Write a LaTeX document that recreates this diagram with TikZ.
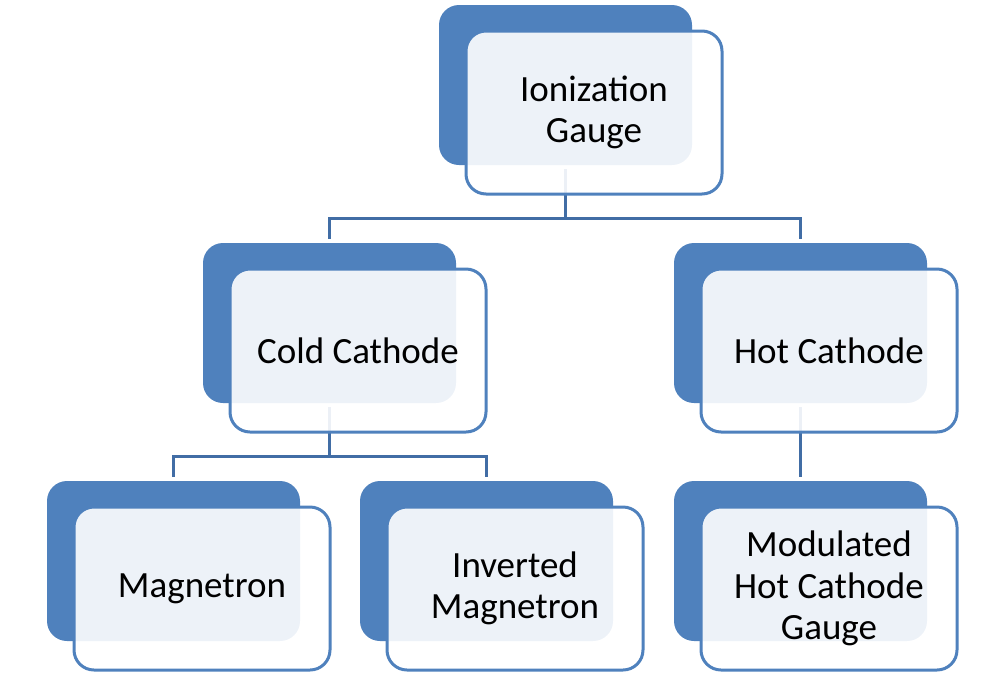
\documentclass[tikz,border=0pt]{standalone}
\usepackage{fontspec}
\setmainfont{Carlito}
\usetikzlibrary{calc}
\definecolor{accblue}{HTML}{4F81BD}
\definecolor{connblue}{HTML}{416DA5}
\pgfdeclarelayer{bg}
\pgfsetlayers{bg,main}
\begin{document}
\begin{tikzpicture}[x=1pt,y=-1pt,
  backbox/.style={fill=accblue, draw=none, rounded corners=20pt, minimum width=253pt, minimum height=160pt, inner sep=0pt, outer sep=0pt},
  frontbox/.style={fill=white, fill opacity=0.9, text opacity=1, draw=accblue, draw opacity=1, line width=3pt, rounded corners=20pt, minimum width=256pt, minimum height=163pt, inner sep=0pt, outer sep=0pt, align=center, font=\fontsize{37}{41.5}\selectfont, text=black},
  conn/.style={draw=connblue, line width=3.5pt}]
\useasboundingbox (0,0) rectangle (1002,673);
% back boxes
\node[backbox] (topb) at (565.5,85) {};
\node[backbox] (coldb) at (329.5,323) {};
\node[backbox] (hotb) at (800.5,323) {};
\node[backbox] (magb) at (173.5,561) {};
\node[backbox] (invb) at (486.5,561) {};
\node[backbox] (modb) at (800.5,561) {};
% front boxes
\node[frontbox] (topf) at (594,112.5) {Ionization\\Gauge};
\node[frontbox] (coldf) at (358,350.5) {Cold Cathode};
\node[frontbox] (hotf) at (829,350.5) {Hot Cathode};
\node[frontbox] (magf) at (202,588.5) {Magnetron};
\node[frontbox] (invf) at (515,588.5) {Inverted\\Magnetron};
\node[frontbox] (modf) at (829,588.5) {Modulated\\Hot Cathode\\Gauge};
% connectors
\coordinate (m1) at ($(topf.south)!0.5!(coldb.north)$);
\coordinate (m2) at ($(coldf.south)!0.5!(magb.north)$);
\begin{pgfonlayer}{bg}
\draw[conn] ([yshift=-4pt]topb.south) -- (topb.south |- m1);
\draw[conn] ([yshift=4pt]coldb.north) -- (coldb.north |- m1) -- (hotb.north |- m1) -- ([yshift=4pt]hotb.north);
\draw[conn] ([yshift=-4pt]coldb.south) -- (coldb.south |- m2);
\draw[conn] ([yshift=4pt]magb.north) -- (magb.north |- m2) -- (invb.north |- m2) -- ([yshift=4pt]invb.north);
\draw[conn] ([yshift=-4pt]hotb.south) -- ([yshift=4pt]modb.north);
\end{pgfonlayer}
\end{tikzpicture}
\end{document}
